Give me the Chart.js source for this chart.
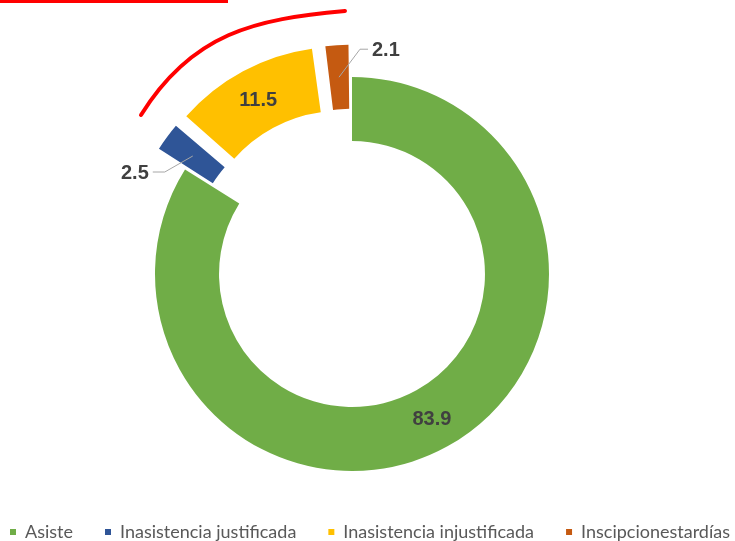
<!DOCTYPE html>
<html lang="es">
<head>
  <meta charset="UTF-8" />
  <title>Asistencia</title>
  <script src="https://cdn.jsdelivr.net/npm/chart.js"></script>
  <style>
    html, body {
      margin: 0;
      padding: 0;
      background: #fff;
    }
    #wrap {
      width: 735px;
      height: 541px;
    }
  </style>
</head>
<body>
  <div id="wrap"><canvas id="asistenciaChart" width="735" height="541"></canvas></div>

  <script>
    // Datos del gráfico (porcentajes)
    const categorias = ['Asiste', 'Inasistencia justificada', 'Inasistencia injustificada', 'Inscipcionestardías'];
    const porcentajes = [83.9, 2.5, 11.5, 2.1];
    const colores = ['#70AD47', '#2F5597', '#FFC000', '#C55A11'];
    // separación de los sectores destacados
    const separacion = [0, 72, 99, 69];
    // dónde va cada etiqueta: dentro del anillo o fuera con línea guía
    const posEtiqueta = ['dentro', 'izquierda', 'dentro', 'derecha'];

    // Etiquetas de valores sobre los sectores
    const etiquetasPlugin = {
      id: 'etiquetas',
      afterDatasetsDraw(chart) {
        const ctx = chart.ctx;
        const meta = chart.getDatasetMeta(0);
        ctx.save();
        ctx.font = 'bold 20px "Liberation Sans", Arial, sans-serif';
        ctx.fillStyle = '#404040';
        ctx.textBaseline = 'middle';
        meta.data.forEach((arc, i) => {
          const p = arc.getProps(['x', 'y', 'startAngle', 'endAngle', 'innerRadius', 'outerRadius', 'circumference']);
          const off = (arc.options.offset || 0) / 4;
          const fix = 1 - Math.sin(Math.min(Math.PI, p.circumference));
          const mid = (p.startAngle + p.endAngle) / 2;
          const r = (p.innerRadius + p.outerRadius) / 2 + off * fix + off;
          const x = p.x + Math.cos(mid) * r;
          const y = p.y + Math.sin(mid) * r;
          const txt = porcentajes[i].toFixed(1);

          if (posEtiqueta[i] === 'dentro') {
            ctx.textAlign = 'center';
            ctx.fillText(txt, x, y + 1);
            return;
          }
          // línea guía hacia la etiqueta exterior
          const izq = posEtiqueta[i] === 'izquierda';
          const codo = izq ? [x - 28, y + 16] : [x + 21, y - 28];
          const fin = izq ? codo[0] - 12 : codo[0] + 8;
          ctx.strokeStyle = '#A6A6A6';
          ctx.lineWidth = 1;
          ctx.beginPath();
          ctx.moveTo(x, y);
          ctx.lineTo(codo[0], codo[1]);
          ctx.lineTo(fin, codo[1]);
          ctx.stroke();
          ctx.textAlign = izq ? 'right' : 'left';
          ctx.fillText(txt, izq ? fin - 4 : fin + 4, codo[1] + 1);
        });
        ctx.restore();
      }
    };

    // Trazo rojo de resaltado y barra superior
    const marcaPlugin = {
      id: 'marca',
      afterDraw(chart) {
        const ctx = chart.ctx;
        const arc = chart.getDatasetMeta(0).data[0];
        const cx = arc.x, cy = arc.y;
        ctx.save();
        ctx.strokeStyle = '#FF0000';
        ctx.lineWidth = 4;
        ctx.lineCap = 'round';
        ctx.beginPath();
        ctx.moveTo(cx - 211, cy - 159);
        ctx.bezierCurveTo(cx - 160, cy - 241, cx - 97, cy - 255, cx - 7, cy - 263);
        ctx.stroke();
        ctx.fillStyle = '#FF0000';
        ctx.fillRect(0, 0, 228, 3);
        ctx.restore();
      }
    };

    function renderChart() {
      const ctx = document.getElementById('asistenciaChart').getContext('2d');
      new Chart(ctx, {
        type: 'doughnut',
        data: {
          labels: categorias,
          datasets: [{
            data: porcentajes,
            backgroundColor: colores,
            borderWidth: 0,
            offset: separacion
          }]
        },
        options: {
          responsive: false,
          animation: false,
          radius: 197,
          cutout: '67.5%',
          layout: {
            padding: { left: -60, right: -27, top: 57, bottom: -10 }
          },
          plugins: {
            // espacio vacío a la derecha para centrar el anillo
            title: {
              display: true,
              text: ' ',
              position: 'right',
              padding: 0,
              font: { size: 58, lineHeight: 1 }
            },
            legend: {
              position: 'bottom',
              align: 'end',
              labels: {
                boxWidth: 6,
                boxHeight: 6,
                padding: 32,
                color: '#595959',
                font: { family: 'Lato', size: 18 }
              }
            },
            tooltip: { enabled: false }
          }
        },
        plugins: [etiquetasPlugin, marcaPlugin]
      });
    }

    renderChart();
  </script>
</body>
</html>
